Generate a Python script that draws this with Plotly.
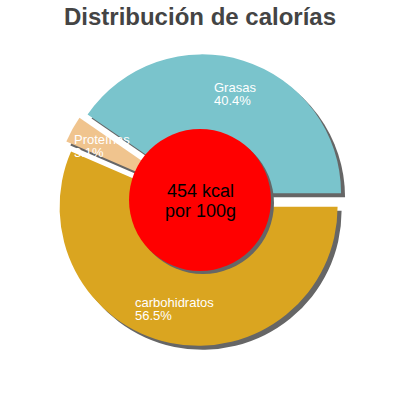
import math
import plotly.graph_objects as go

# calorie split
labels = ["Grasas", "carbohidratos", "Proteínas"]
values = [40.4, 56.5, 3.1]
colors = ["#7ac4cc", "#daa520", "#f0c48e"]
kcal = 454
center_lines = [f"{kcal} kcal", "por 100g"]
title = "Distribución de calorías"

W, H = 400, 400
CX, CY = 200, 200      # pie centre in px
R = 139                # outer radius in px
HOLE_R = 71            # red disc radius in px
PULL = 0.05
SHADOW = 4             # shadow offset in px
FONT = "Liberation Sans, Arial, sans-serif"


def domain(cx, cy, half):
    return dict(x=[(cx - half) / W, (cx + half) / W],
                y=[1 - (cy + half) / H, 1 - (cy - half) / H])


total = sum(values)
# first slice ends at 3 o'clock
rotation = 90 - 360 * values[0] / total

pie_half = R * (1 + PULL)
common = dict(
    values=values,
    labels=labels,
    sort=False,
    direction="clockwise",
    rotation=rotation,
    pull=[PULL] * len(values),
    textinfo="none",
    hoverinfo="skip",
    showlegend=False,
)

fig = go.Figure()
fig.add_trace(go.Pie(**common, domain=domain(CX + SHADOW, CY + SHADOW, pie_half),
                     marker=dict(colors=["#666666"] * len(values), line=dict(width=0))))
fig.add_trace(go.Pie(**common, domain=domain(CX, CY, pie_half),
                     marker=dict(colors=colors, line=dict(width=0))))

# red centre disc + its shadow
for off, col in [(SHADOW - 1, "#666666"), (0, "#ff0000")]:
    fig.add_trace(go.Pie(values=[1], labels=["kcal"], sort=False, textinfo="none",
                         hoverinfo="skip", showlegend=False,
                         domain=domain(CX + off, CY + off, HOLE_R),
                         marker=dict(colors=[col], line=dict(width=0))))

annotations = []
# slice labels, placed along each slice bisector
start = rotation
for lab, v in zip(labels, values):
    sweep = 360 * v / total
    mid = math.radians(start + sweep / 2)
    start += sweep
    r = R * 0.75 + PULL * R
    px = CX + r * math.sin(mid)
    py = CY - r * math.cos(mid)
    lines = [lab, f"{v:.1f}%"]
    left = -0.5 * max(len(s) for s in lines) * 6.9
    for i, s in enumerate(lines):
        annotations.append(dict(
            x=px / W, y=1 - py / H, xref="paper", yref="paper",
            text=s, showarrow=False, xanchor="left", yanchor="middle",
            xshift=left, yshift=6.2 - 12.4 * i,
            font=dict(family=FONT, size=13, color="white"),
        ))

for i, s in enumerate(center_lines):
    annotations.append(dict(
        x=CX / W, y=1 - CY / H, xref="paper", yref="paper",
        text=s, showarrow=False, xanchor="center", yanchor="middle",
        yshift=9 - 20 * i,
        font=dict(family=FONT, size=18, color="black"),
    ))

fig.update_layout(
    width=W, height=H,
    margin=dict(l=0, r=0, t=0, b=0),
    paper_bgcolor="white",
    title=dict(text=f"<b>{title}</b>", x=0.5, xanchor="center",
               y=1 - 17 / H, yanchor="middle",
               font=dict(family=FONT, size=24, color="#444444")),
    annotations=annotations,
)

# drop the default 8px page margin so the figure sits at the window corner
fig.write_html("out.html", config={"displayModeBar": False},
               post_script="document.body.style.margin='0';")
